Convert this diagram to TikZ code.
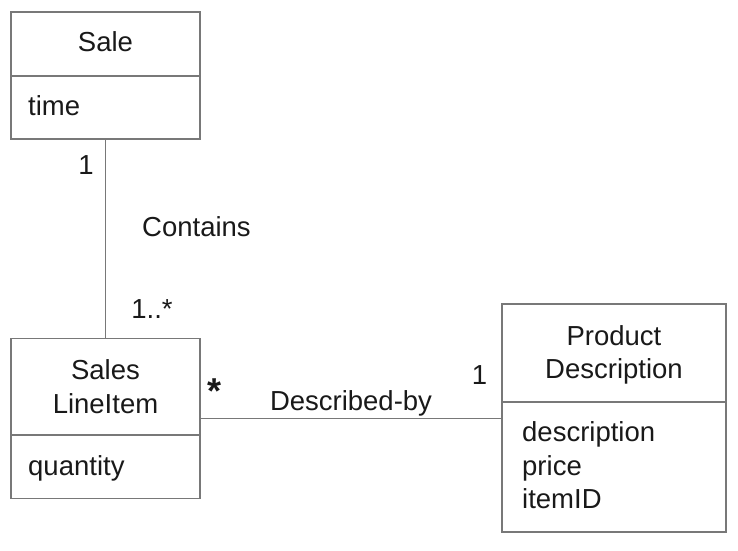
\documentclass[tikz,border=0pt]{standalone}
\usepackage{fontspec}
\setmainfont{Liberation Sans}
\definecolor{linegray}{RGB}{120,120,120}
\begin{document}
\begin{tikzpicture}[x=1pt,y=1pt,
  font=\fontsize{27.5}{33}\selectfont,
  cls/.style={draw=linegray, line width=1.2pt, inner sep=0pt, fill=none},
  conn/.style={draw=linegray, line width=1.2pt},
  txt/.style={inner sep=0pt, text=black!90}]
\useasboundingbox (0,0) rectangle (738,550);
% Sale
\node[cls, minimum width=189pt, minimum height=127pt] (sale) at (105.5,474.5) {};
\draw[conn] (11,474) -- (200,474);
\node[txt, anchor=base] (salename) at (105.5,498) {Sale};
\node[txt, anchor=base west] (saletime) at (28,434) {time};
% Sales LineItem
\node[cls, minimum width=189pt, minimum height=160pt] (sli) at (105.5,131.5) {};
\draw[conn] (11,115) -- (200,115);
\node[txt, anchor=base] (sliname1) at (105.5,171) {Sales};
\node[txt, anchor=base] (sliname2) at (105.5,137) {LineItem};
\node[txt, anchor=base west] (sliqty) at (28,75) {quantity};
% Product Description
\node[cls, minimum width=224pt, minimum height=228pt] (pd) at (614,132) {};
\draw[conn] (502,148) -- (726,148);
\node[txt, anchor=base] (pdname1) at (614,205) {Product};
\node[txt, anchor=base] (pdname2) at (614,172) {Description};
\node[txt, anchor=base west] (pda1) at (522,109) {description};
\node[txt, anchor=base west] (pda2) at (522,75) {price};
\node[txt, anchor=base west] (pda3) at (522,42) {itemID};
% connectors
\draw[conn] (sale.south) -- (sli.north);
\draw[conn] (sli.east) -- (sli.east -| pd.west);
% labels
\node[txt, anchor=base] (m1) at (86,376) {1};
\node[txt, anchor=base] (contains) at (196.5,314) {Contains};
\node[txt, anchor=base] (m2) at (152,232) {1..*};
\node[txt, font=\fontsize{36}{36}\selectfont\bfseries] (m3) at (214.5,159) {*};
\node[txt, anchor=base] (described) at (351,140) {Described-by};
\node[txt, anchor=base] (m4) at (479.5,166) {1};
\end{tikzpicture}
\end{document}
